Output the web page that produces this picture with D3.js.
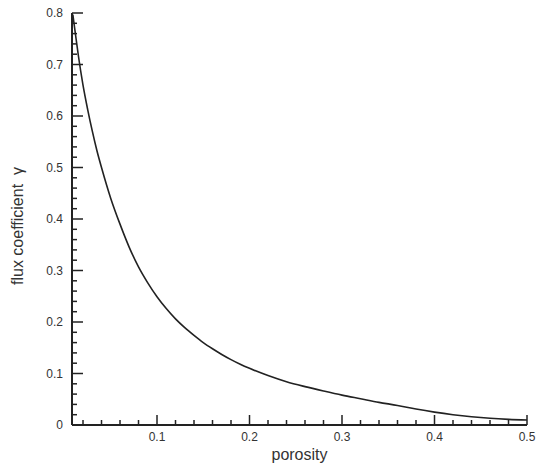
<!DOCTYPE html>
<html lang="en">
<head>
<meta charset="UTF-8" />
<title>Flux coefficient vs porosity</title>
<style>
  body { margin: 0; background: #fff; }
  svg text { font-family: "Liberation Sans", Arial, sans-serif; fill: #333; }
  .axis-line { stroke: #222; stroke-width: 2; fill: none; }
  .tick-line { stroke: #222; stroke-width: 1.5; }
  .data-line { stroke: #222; stroke-width: 1.6; fill: none; }
</style>
</head>
<body>
<script src="https://cdn.jsdelivr.net/npm/d3@7"></script>
<script>

// values
var porosity = [0.009, 0.0125, 0.015, 0.02, 0.025, 0.03, 0.035, 0.04, 0.05, 0.06, 0.07, 0.08,
                0.09, 0.1, 0.11, 0.12, 0.13, 0.14, 0.15, 0.16, 0.17, 0.18, 0.19, 0.2,
                0.22, 0.24, 0.26, 0.28, 0.3, 0.32, 0.34, 0.36, 0.38, 0.4, 0.42, 0.44,
                0.46, 0.48, 0.5];
var gamma = [0.797, 0.75, 0.717, 0.66, 0.613, 0.571, 0.533, 0.5, 0.44, 0.39, 0.345, 0.307,
             0.276, 0.249, 0.226, 0.206, 0.189, 0.174, 0.16, 0.148, 0.137, 0.127, 0.118, 0.11,
             0.096, 0.084, 0.0745, 0.066, 0.058, 0.051, 0.044, 0.038, 0.031, 0.025, 0.02, 0.016,
             0.013, 0.011, 0.0097];

var xTicks = [0.1, 0.2, 0.3, 0.4, 0.5];
var yTicks = [0, 0.1, 0.2, 0.3, 0.4, 0.5, 0.6, 0.7, 0.8];

var w = 538, h = 468;
var margin = { top: 13, right: 11, bottom: 43, left: 72 };

var svg = d3.select("body").append("svg")
  .attr("width", w)
  .attr("height", h);

var xScale = d3.scaleLinear()
  .domain([0.0081, 0.5])
  .range([margin.left, w - margin.right]);

var yScale = d3.scaleLinear()
  .domain([0, 0.8])
  .range([h - margin.bottom, margin.top]);

var data = porosity.map(function(p, i) { return { p: p, g: gamma[i] }; });

// minor ticks every 0.02
var xMinor = d3.range(0.02, 0.5001, 0.02).filter(function(v) {
  return Math.abs(v * 10 - Math.round(v * 10)) > 1e-6;
});
var yMinor = d3.range(0.02, 0.8001, 0.02).filter(function(v) {
  return Math.abs(v * 10 - Math.round(v * 10)) > 1e-6;
});

var y0 = yScale(0), x0 = xScale.range()[0];

// x ticks (inward)
svg.append("g").selectAll("line.minor")
  .data(xMinor).enter().append("line")
  .attr("class", "tick-line")
  .attr("x1", function(d) { return xScale(d); })
  .attr("x2", function(d) { return xScale(d); })
  .attr("y1", y0).attr("y2", y0 - 5);

svg.append("g").selectAll("line.major")
  .data(xTicks).enter().append("line")
  .attr("class", "tick-line")
  .attr("x1", function(d) { return xScale(d); })
  .attr("x2", function(d) { return xScale(d); })
  .attr("y1", y0).attr("y2", y0 - 10);

svg.append("g").selectAll("text")
  .data(xTicks).enter().append("text")
  .attr("x", function(d) { return xScale(d); })
  .attr("y", y0 + 16)
  .attr("text-anchor", "middle")
  .style("font-size", "12px")
  .text(function(d) { return d3.format(".1f")(d); });

// y ticks (inward)
svg.append("g").selectAll("line.minor")
  .data(yMinor).enter().append("line")
  .attr("class", "tick-line")
  .attr("x1", x0).attr("x2", x0 + 5)
  .attr("y1", function(d) { return yScale(d); })
  .attr("y2", function(d) { return yScale(d); });

svg.append("g").selectAll("line.major")
  .data(yTicks).enter().append("line")
  .attr("class", "tick-line")
  .attr("x1", x0).attr("x2", x0 + 11)
  .attr("y1", function(d) { return yScale(d); })
  .attr("y2", function(d) { return yScale(d); });

svg.append("g").selectAll("text")
  .data(yTicks).enter().append("text")
  .attr("x", x0 - 9)
  .attr("y", function(d) { return yScale(d) + 4; })
  .attr("text-anchor", "end")
  .style("font-size", "12px")
  .text(function(d) { return d === 0 ? "0" : d3.format(".1f")(d); });

// axis lines
svg.append("line").attr("class", "axis-line")
  .attr("x1", x0).attr("x2", xScale.range()[1])
  .attr("y1", y0).attr("y2", y0);
svg.append("line").attr("class", "axis-line")
  .attr("x1", x0).attr("x2", x0)
  .attr("y1", y0).attr("y2", yScale(0.8));

// the curve
var line = d3.line()
  .x(function(d) { return xScale(d.p); })
  .y(function(d) { return yScale(d.g); })
  .curve(d3.curveMonotoneX);

svg.append("path")
  .datum(data)
  .attr("class", "data-line")
  .attr("d", line);

// axis titles
svg.append("text")
  .attr("x", (xScale.range()[0] + xScale.range()[1]) / 2)
  .attr("y", 460)
  .attr("text-anchor", "middle")
  .style("font-size", "16px")
  .text("porosity");

svg.append("text")
  .attr("transform", "translate(23,226) rotate(-90)")
  .attr("text-anchor", "middle")
  .style("font-size", "16px")
  .text("flux coefficient\u00a0\u00a0\u03b3");

</script>
</body>
</html>
